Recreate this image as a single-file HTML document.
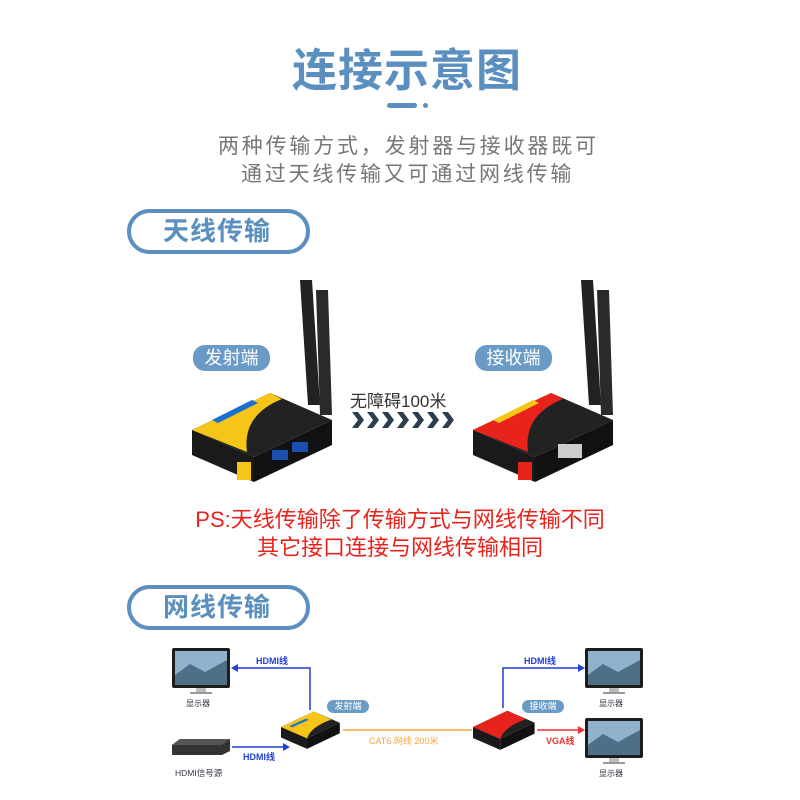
<!DOCTYPE html>
<html><head><meta charset="utf-8"><style>
body{margin:0;background:#fff;}
#c{position:relative;width:800px;height:800px;overflow:hidden;font-family:"Liberation Sans","Noto Sans CJK SC",sans-serif;}
.t{position:absolute;white-space:nowrap;}
.pill{position:absolute;border:4px solid #5b8fc0;border-radius:24px;box-sizing:border-box;color:#5b8fc0;font-size:26px;font-weight:bold;letter-spacing:1px;line-height:36px;padding-left:32px;}
.tag{position:absolute;background:#6a9bc6;color:#fff;border-radius:12px;text-align:center;}
</style></head><body><div id="c">
<div class="t" style="left:292px;top:34px;font-size:45px;font-weight:bold;color:#5b8fc0;letter-spacing:1px;">连接示意图</div>
<div style="position:absolute;left:387px;top:103px;width:30px;height:5px;border-radius:3px;background:#5b8fc0"></div>
<div style="position:absolute;left:423px;top:103px;width:5px;height:5px;border-radius:3px;background:#5b8fc0"></div>
<div class="t" style="left:218px;top:130px;font-size:21px;color:#777;letter-spacing:2.8px;">两种传输方式，发射器与接收器既可</div>
<div class="t" style="left:241px;top:158px;font-size:21px;color:#777;letter-spacing:2.8px;">通过天线传输又可通过网线传输</div>
<div class="pill" style="left:127px;top:209px;width:183px;height:45px;">天线传输</div>
<div class="pill" style="left:127px;top:585px;width:183px;height:45px;">网线传输</div>
<div class="tag" style="left:193px;top:345px;width:77px;height:26px;font-size:18px;line-height:26px;">发射端</div>
<div class="tag" style="left:475px;top:345px;width:77px;height:26px;font-size:18px;line-height:26px;">接收端</div>
<div class="t" style="left:350px;top:387px;font-size:17px;color:#333;">无障碍100米</div>
<svg style="position:absolute;left:0;top:0" width="800" height="800">
<defs>
<g id="dev">
<polygon points="108,-150 120,-150 128,-25 116,-25" fill="#222"/>
<polygon points="124,-140 136,-140 140,-15 128,-15" fill="#2a2a2a"/>
<polygon points="0,0 78,-37 140,-10 62,27" fill="#222"/>
<polygon points="0,0 62,27 62,52 0,25" fill="#1a1a1a"/>
<polygon points="62,27 140,-10 140,15 62,52" fill="#111"/>
</g>
<polygon id="chev" points="0,0 6,0 12,8 6,16 0,16 6,8" fill="#2d3e50"/>
</defs>
<use href="#chev" x="352" y="412"/><use href="#chev" x="367" y="412"/><use href="#chev" x="382" y="412"/><use href="#chev" x="397" y="412"/><use href="#chev" x="412" y="412"/><use href="#chev" x="427" y="412"/><use href="#chev" x="442" y="412"/>
<!-- TX -->
<g transform="translate(192,430)">
<use href="#dev"/>
<path d="M0,0 L78,-37 L90,-31 Q50,-15 55,22 Z" fill="#f5c518"/>
<rect x="45" y="32" width="14" height="18" fill="#f5c518"/>
<rect x="80" y="20" width="16" height="10" fill="#1a4fb0"/><rect x="100" y="12" width="16" height="10" fill="#1a4fb0"/>
<polygon points="20,-10 60,-30 66,-27 26,-7" fill="#1a6fd0"/>
</g>
<!-- RX -->
<g transform="translate(473,430)">
<use href="#dev"/>
<path d="M0,0 L78,-37 L90,-31 Q50,-15 55,22 Z" fill="#e8231c"/>
<rect x="45" y="32" width="14" height="18" fill="#e8231c"/>
<rect x="85" y="14" width="24" height="14" fill="#ccc"/>
<polygon points="20,-10 60,-30 66,-27 26,-7" fill="#f5c518"/>
</g>
<g stroke="#1f3fd8" stroke-width="1.5" fill="none">
<polyline points="310,710 310,668 236,668"/><polyline points="232,747 286,747"/>
<polyline points="503,708 503,668 581,668"/>
</g>
<g fill="#1f3fd8"><polygon points="231,668 238,664 238,672"/><polygon points="290,747 283,743 283,751"/><polygon points="585,668 578,664 578,672"/></g>
<line x1="343" y1="730" x2="472" y2="730" stroke="#f7a43a" stroke-width="1.5"/>
<line x1="537" y1="730" x2="580" y2="730" stroke="#f03030" stroke-width="1.5"/>
<polygon points="585,730 578,726 578,734" fill="#f03030"/>
<g transform="translate(281,727) scale(0.42)"><polygon points="0,0 78,-37 140,-10 62,27" fill="#222"/><polygon points="0,0 62,27 62,52 0,25" fill="#1a1a1a"/><polygon points="62,27 140,-10 140,15 62,52" fill="#111"/><path d="M0,0 L78,-37 L120,-18 Q70,0 62,27 Z" fill="#f5c518"/><polygon points="20,-2 60,-20 66,-17 26,1" fill="#1a6fd0"/></g>
<g transform="translate(473,727) scale(0.44)"><polygon points="0,0 78,-37 140,-10 62,27" fill="#222"/><polygon points="0,0 62,27 62,52 0,25" fill="#1a1a1a"/><polygon points="62,27 140,-10 140,15 62,52" fill="#111"/><path d="M0,0 L78,-37 L120,-18 Q70,0 62,27 Z" fill="#e8231c"/></g>
<polygon points="172,745 180,739 230,739 230,751 222,755 172,755" fill="#333"/>
<polygon points="172,745 180,739 230,739 222,745" fill="#555"/>
<g id="mon"><rect x="172" y="648" width="58" height="40" rx="2" fill="#1d1d1d"/><rect x="175" y="651" width="52" height="34" fill="#8fb3cc"/><path d="M175,675 L190,664 L205,672 L227,660 L227,685 L175,685 Z" fill="#4e6f86"/><rect x="196" y="688" width="10" height="4" fill="#bbb"/><rect x="190" y="692" width="22" height="2" fill="#999"/></g>
<use href="#mon" transform="translate(413,0)"/>
<use href="#mon" transform="translate(413,70)"/>
</svg>
<div class="t" style="left:256px;top:654px;font-size:9px;font-weight:bold;color:#1f3fd8;">HDMI线</div>
<div class="t" style="left:243px;top:750px;font-size:9px;font-weight:bold;color:#1f3fd8;">HDMI线</div>
<div class="t" style="left:524px;top:654px;font-size:9px;font-weight:bold;color:#1f3fd8;">HDMI线</div>
<div class="t" style="left:369px;top:734px;font-size:9px;color:#f7a43a;">CAT6 网线 200米</div>
<div class="t" style="left:546px;top:734px;font-size:9px;font-weight:bold;color:#f03030;">VGA线</div>
<div class="tag" style="left:327px;top:700px;width:42px;height:13px;font-size:9px;line-height:13px;">发射端</div>
<div class="tag" style="left:522px;top:700px;width:42px;height:13px;font-size:9px;line-height:13px;">接收端</div>
<div class="t" style="left:186px;top:698px;font-size:8px;color:#334;">显示器</div>
<div class="t" style="left:599px;top:698px;font-size:8px;color:#334;">显示器</div>
<div class="t" style="left:599px;top:768px;font-size:8px;color:#334;">显示器</div>
<div class="t" style="left:175px;top:767px;font-size:8.5px;color:#334;">HDMI信号源</div>
<div class="t" style="left:0;width:800px;text-align:center;top:502px;font-size:22px;color:#e8231c;">PS:天线传输除了传输方式与网线传输不同</div>
<div class="t" style="left:0;width:800px;text-align:center;top:530px;font-size:22px;color:#e8231c;">其它接口连接与网线传输相同</div>
</div></body></html>
